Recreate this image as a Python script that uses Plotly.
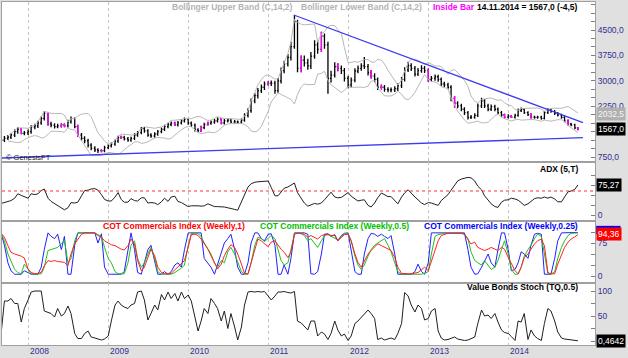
import pandas as pd
import plotly.graph_objects as go
from plotly.subplots import make_subplots

# ---------------- data (semi-monthly bars) ----------------
close = [1250,1310,1340,1400,1500,1570,1450,1460,1500,1630,
         1670,1760,1890,2040,1730,1690,1650,1670,1700,1670,
         1790,1890,1650,1400,1300,1230,1100,1010,960,940,
         940,1030,1080,1130,1220,1330,1330,1290,1250,1300,
         1400,1470,1590,1520,1400,1370,1430,1500,1570,1650,
         1710,1750,1700,1760,1820,1870,1750,1690,1550,1530,
         1620,1710,1750,1780,1820,1870,1760,1820,1840,1790,
         1790,1780,1840,1980,2120,2410,2560,2710,2810,2900,
         2930,2930,2710,3000,3300,3500,3690,4010,4750,3370,
         3610,3530,3440,3730,4060,3930,4320,4060,3070,3170,
         3420,3370,3300,3070,2880,3020,3290,3370,3440,3420,
         3240,3140,3040,2810,2810,2750,2730,2730,2770,2860,
         3040,3320,3450,3370,3200,3300,3370,3300,3040,3070,
         3120,3040,2910,2880,2810,2480,2340,2260,2160,2060,
         1920,1930,1980,2260,2410,2260,2160,2240,2160,2060,
         1990,1930,1960,1930,1980,2120,2160,2060,2000,1930,
         1920,1930,1890,2060,2140,2100,2040,1990,1920,1820,
         1720,1700,1610,1567]
high = [1310,1370,1400,1460,1560,1630,1600,1520,1560,1690,
        1730,1820,1950,2100,2060,1790,1750,1730,1750,1740,
        1850,1950,1920,1700,1460,1360,1290,1160,1070,1010,
        990,1080,1130,1180,1270,1380,1380,1380,1340,1350,
        1450,1520,1640,1640,1570,1450,1480,1550,1620,1700,
        1760,1800,1790,1810,1870,1920,1900,1800,1740,1600,
        1670,1760,1790,1830,1870,1920,1900,1870,1890,1880,
        1840,1830,1890,2040,2190,2480,2640,2790,2890,2980,
        2990,3010,3000,3080,3390,3590,3790,4150,4940,4800,
        3750,3750,3650,3850,4200,4200,4450,4400,4150,3300,
        3550,3520,3450,3380,3150,3100,3370,3450,3520,3700,
        3500,3320,3220,3100,2890,2880,2810,2800,2840,2930,
        3110,3400,3560,3520,3440,3380,3460,3440,3360,3140,
        3190,3180,3100,2970,2940,2870,2550,2400,2320,2220,
        2110,1990,2040,2330,2500,2460,2320,2300,2290,2210,
        2110,2030,2010,1990,2030,2180,2210,2200,2100,2040,
        1970,1970,1970,2110,2190,2180,2140,2080,2030,1960,
        1860,1760,1730,1640]
low = [1170,1190,1250,1280,1340,1440,1420,1390,1400,1440,
       1570,1610,1700,1830,1680,1630,1590,1600,1620,1630,
       1620,1740,1600,1340,1230,1160,1030,950,900,870,
       890,890,980,1030,1080,1170,1280,1240,1200,1200,
       1250,1350,1420,1470,1350,1320,1320,1380,1450,1520,
       1600,1660,1670,1650,1710,1770,1700,1640,1500,1480,
       1490,1570,1680,1700,1730,1770,1720,1710,1770,1750,
       1740,1740,1730,1790,1920,2060,2340,2480,2640,2730,
       2860,2850,2620,2650,2920,3220,3420,3600,3950,3250,
       3250,3420,3330,3350,3650,3800,3850,3950,2620,2950,
       3100,3280,3200,2980,2780,2800,2960,3220,3300,3350,
       3160,3070,2960,2730,2740,2680,2660,2660,2670,2700,
       2790,2980,3260,3290,3130,3140,3240,3230,2970,2980,
       3000,2970,2850,2810,2750,2400,2200,2190,2100,1990,
       1860,1870,1880,1930,2200,2200,2100,2110,2100,2010,
       1940,1890,1890,1900,1890,1940,2080,2020,1960,1890,
       1880,1880,1850,1860,2020,2060,1990,1950,1880,1780,
       1680,1660,1570,1540]
first_open = 1230
inside_bar_idx = [6, 14, 18, 19, 23, 30, 36, 52, 60, 62, 66, 80, 90, 96, 101,
                  111, 114, 128, 136, 151, 153, 159, 170, 173]

adx = [29,31,34,36,42,53,49,45,42,53,
       51,53,61,65,42,34,28,23,18,13,
       18,31,30,32,48,61,62,65,66,62,
       51,39,35,35,45,56,39,32,32,41,
       36,35,43,43,30,31,30,26,33,42,
       34,45,47,34,31,27,21,23,24,23,
       22,23,28,24,21,21,21,20,18,17,
       14,12,32,50,70,78,82,83,84,84,
       85,69,48,48,58,67,70,75,80,56,
       40,30,22,25,29,27,30,38,47,57,
       45,43,44,49,56,47,41,35,37,38,
       24,20,30,43,55,50,46,46,36,28,
       45,55,63,54,45,38,30,26,31,30,
       26,24,36,43,51,62,75,85,90,92,
       94,93,85,72,63,48,38,28,21,19,
       32,37,38,42,40,37,31,24,28,34,
       41,43,42,45,42,45,40,33,33,45,
       58,60,64,75.27]

cot_w1 = [97,88,69,54,50,48,45,41,16,8,
          5,6,8,23,35,33,35,33,31,31,
          23,50,73,84,95,98,98,98,98,92,
          88,80,74,71,69,65,61,59,69,84,
          73,35,12,20,42,61,46,20,8,5,
          5,6,14,20,27,35,65,94,95,92,
          84,73,61,46,31,16,27,46,61,71,
          65,50,27,6,5,31,58,84,80,73,
          67,77,80,69,61,54,42,54,95,97,
          97,95,88,92,88,84,92,94,95,92,
          92,80,88,94,95,80,50,31,20,35,
          50,58,65,73,69,65,61,58,42,20,
          6,5,5,5,6,8,14,20,12,35,
          61,80,92,95,97,97,97,97,97,95,
          84,73,77,65,61,58,61,65,61,58,
          65,61,42,27,12,5,20,42,50,61,
          73,80,84,69,8,5,5,27,50,65,
          77,84,89,94.36]
cot_w05 = [96,80,50,35,15,8,5,27,14,5,
           4,4,5,20,58,60,62,65,73,82,
           30,40,80,98,98,98,98,98,98,94,
           90,65,40,30,10,5,5,5,30,70,
           80,40,20,30,50,65,40,10,4,4,
           4,4,8,12,18,25,70,96,98,96,
           90,75,60,50,30,20,35,30,55,65,
           50,30,10,4,4,30,70,88,85,78,
           85,92,85,60,35,25,30,60,96,98,
           96,92,80,85,75,65,80,92,94,90,
           85,82,90,96,97,80,45,25,15,25,
           45,60,70,75,80,85,70,55,30,10,
           4,4,4,4,4,4,4,6,10,50,
           90,94,96,97,97,97,97,97,97,95,
           85,55,35,30,25,35,25,15,20,35,
           60,80,50,15,4,4,20,45,60,70,
           85,95,90,50,5,4,10,40,65,80,
           92,97,97,98]
cot_w025 = [95,70,30,12,4,4,4,12,8,4,
            4,4,20,60,98,90,85,95,60,90,
            4,4,70,98,98,98,98,98,98,75,
            96,20,4,4,4,4,4,10,60,98,
            60,8,4,30,60,70,30,4,4,10,
            4,10,25,30,20,60,98,98,98,98,
            98,40,30,20,4,25,50,75,85,95,
            60,20,4,4,30,75,98,98,85,80,
            95,96,70,4,4,25,4,40,98,98,
            98,98,95,5,4,10,50,95,96,90,
            94,80,92,97,98,60,10,4,4,50,
            85,97,95,90,95,90,85,92,50,4,
            4,4,4,4,10,27,10,4,30,98,
            98,98,97,98,98,98,98,98,98,98,
            60,20,4,5,20,35,50,30,20,60,
            98,98,60,12,15,30,55,50,40,70,
            95,97,95,4,4,4,40,80,98,98,
            98,98,98,99]

stoch = [19,80,80,85,75,75,38,65,82,98,
         100,100,100,60,58,55,48,65,50,55,
         70,55,15,5,5,15,20,8,6,4,
         2,4,10,40,72,80,72,68,65,72,
         75,98,100,82,42,55,72,62,93,82,
         98,85,95,80,98,85,92,80,45,20,
         40,65,55,85,75,65,40,60,25,55,
         28,2,28,72,98,99,98,99,98,99,
         90,82,90,98,98,99,97,96,99,40,
         36,30,22,40,40,10,18,14,3,15,
         40,22,10,14,1,10,35,40,47,55,
         62,55,45,3,6,2,5,6,3,15,
         35,97,90,72,58,72,65,42,45,60,
         65,20,6,2,3,5,8,4,2,1,
         2,4,8,35,62,50,52,45,55,38,
         22,17,15,9,1,40,38,55,3,22,
         10,5,1,35,65,60,40,18,6,4,
         3,2,1,0.4642]

years = [2008, 2009, 2010, 2011, 2012, 2013, 2014]
trend_upper_dates = ["2011-04-28", "2014-12-08"]
trend_upper_price = [4943, 1763]
trend_lower_dates = ["2007-09-04", "2014-12-08"]
trend_lower_price = [721, 1320]
bb_upper_last_text = "2032,5"
bb_upper_last = 2032.5
last_close_text = "1567,0"
adx_last_text = "75,27"
cot_last_text = "94,36"
stoch_last_text = "0,4642"
price_ticks = [750, 1500, 2250, 3000, 3750, 4500]
adx_level = 60
cot_levels = [80, 20]
stoch_levels = [85, 15]

# ---------------- derived ----------------
dates = pd.date_range("2007-09-01", periods=len(close), freq="SMS")
opens = [first_open] + close[:-1]
s = pd.Series(close)
mid = s.rolling(7, min_periods=3).mean()
sd = s.rolling(7, min_periods=3).std(ddof=0)
bb_up = mid + 2 * sd
bb_lo = mid - 2 * sd

FONT = "Liberation Sans"
AXC = "#303090"
GRID = "#c4c4c4"

fig = make_subplots(rows=4, cols=1, shared_xaxes=True, vertical_spacing=0,
                    row_heights=[160, 59, 62, 62])

# Bollinger bands
fig.add_trace(go.Scatter(x=dates, y=bb_up, mode="lines", line=dict(color="#b8b8b8", width=1)), 1, 1)
fig.add_trace(go.Scatter(x=dates, y=bb_lo, mode="lines", line=dict(color="#b8b8b8", width=1)), 1, 1)

# price bars
fig.add_trace(go.Ohlc(x=dates, open=opens, high=high, low=low, close=close,
                      increasing_line_color="black", decreasing_line_color="black",
                      line_width=1.3, tickwidth=0.35), 1, 1)
ib = inside_bar_idx
fig.add_trace(go.Ohlc(x=[dates[i] for i in ib], open=[opens[i] for i in ib],
                      high=[high[i] for i in ib], low=[low[i] for i in ib],
                      close=[close[i] for i in ib],
                      increasing_line_color="#ff00ff", decreasing_line_color="#ff00ff",
                      line_width=1.3, tickwidth=0.35), 1, 1)

# trend lines
fig.add_trace(go.Scatter(x=trend_upper_dates, y=trend_upper_price, mode="lines",
                         line=dict(color="#3c3cf0", width=1.3)), 1, 1)
fig.add_trace(go.Scatter(x=trend_lower_dates, y=trend_lower_price, mode="lines",
                         line=dict(color="#3c3cf0", width=1.3)), 1, 1)

# ADX
fig.add_trace(go.Scatter(x=dates, y=adx, mode="lines", line=dict(color="#202020", width=1)), 2, 1)
fig.add_hline(y=adx_level, line=dict(color="#ff3030", width=1, dash="dot"), row=2, col=1)

# COT
fig.add_hline(y=cot_levels[0], line=dict(color="#30c030", width=1, dash="dot"), row=3, col=1)
fig.add_hline(y=cot_levels[1], line=dict(color="#e02020", width=1, dash="dash"), row=3, col=1)
fig.add_trace(go.Scatter(x=dates, y=cot_w025, mode="lines", line=dict(color="#2020ff", width=1)), 3, 1)
fig.add_trace(go.Scatter(x=dates, y=cot_w05, mode="lines", line=dict(color="#20c020", width=1)), 3, 1)
fig.add_trace(go.Scatter(x=dates, y=cot_w1, mode="lines", line=dict(color="#ff2020", width=1)), 3, 1)

# Stoch
fig.add_hline(y=stoch_levels[0], line=dict(color="#e02020", width=1, dash="dash"), row=4, col=1)
fig.add_hline(y=stoch_levels[1], line=dict(color="#30c030", width=1, dash="dot"), row=4, col=1)
fig.add_trace(go.Scatter(x=dates, y=stoch, mode="lines", line=dict(color="#202020", width=1)), 4, 1)

year_dates = [f"{y}-01-01" for y in years]
fig.update_xaxes(range=["2007-09-04", "2015-02-01"], showgrid=True, gridcolor=GRID,
                 griddash="dot", gridwidth=1, tickvals=year_dates, showticklabels=False,
                 ticks="", showline=True, mirror=True, linecolor="#a0a0a0",
                 rangeslider_visible=False, zeroline=False)

yax_common = dict(side="right", ticks="inside", ticklen=4, tickcolor="#808080",
                  showgrid=False, zeroline=False, showline=True, mirror=True,
                  linecolor="#a0a0a0", automargin=False,
                  tickfont=dict(family=FONT, size=8.5, color=AXC))
fig.update_yaxes(range=[603, 5327], tickvals=price_ticks,
                 ticktext=[f"{v},0" for v in price_ticks],
                 minor=dict(ticks="inside", dtick=250, ticklen=4, tickcolor="#808080"),
                 row=1, col=1, **yax_common)
fig.update_yaxes(range=[-15, 132.5], tickvals=[0, 25, 50, 75, 100],
                 ticktext=["0", "", "", "", ""], row=2, col=1, **yax_common)
fig.update_yaxes(range=[-15.9, 125], tickvals=[0, 25, 50, 75, 100],
                 ticktext=["0", "", "", "75", ""], row=3, col=1, **yax_common)
fig.update_yaxes(range=[-8, 116], tickvals=[0, 25, 50, 75, 100],
                 ticktext=["", "", "50", "", "100"], row=4, col=1, **yax_common)

ann = []
def txt(text, x, y, color, xanchor="left", size=8.5, bold=True):
    ann.append(dict(text=f"<b>{text}</b>" if bold else text, x=x, y=y, xref="paper", yref="paper",
                    xanchor=xanchor, yanchor="middle", showarrow=False,
                    font=dict(family=FONT, size=size, color=color)))

def px_x(p):
    return (p - 2) / 593.0

def px_y(p):
    return (345 - p) / 343.0

txt("Bollinger Upper Band (C,14,2)", px_x(170), px_y(7), "#b4b4b4")
txt("Bollinger Lower Band (C,14,2)", px_x(299), px_y(7), "#b4b4b4")
txt("Inside Bar", px_x(431), px_y(7), "#ff00ff")
txt("14.11.2014 = 1567,0 (-4,5)", px_x(580), px_y(7), "#000000", xanchor="right")
txt("© GenesisFT", px_x(4), px_y(157), "#202020", size=7.5, bold=False)
txt("ADX (5,T)", px_x(580), px_y(169), "#000000", xanchor="right")
txt("COT Commercials Index (Weekly,1)", px_x(101), px_y(226), "#ff0000")
txt("COT Commercials Index (Weekly,0.5)", px_x(258), px_y(226), "#00c000")
txt("COT Commercials Index (Weekly,0.25)", px_x(580), px_y(226), "#0000ff", xanchor="right")
txt("Value Bonds Stoch (TQ,0.5)", px_x(580), px_y(287), "#000000", xanchor="right")

for y, d in zip(years, year_dates):
    ann.append(dict(text=str(y), x=d, y=px_y(351), xref="x", yref="paper", xanchor="left",
                    yanchor="middle", showarrow=False,
                    font=dict(family=FONT, size=8.5, color=AXC)))

def valbox(text, yval, yref, bg, fg="white"):
    ann.append(dict(text=text, x=1.002, y=yval, xref="paper", yref=yref, xanchor="left",
                    yanchor="middle", showarrow=False, bgcolor=bg, borderpad=1,
                    font=dict(family=FONT, size=8.5, color=fg)))

valbox(bb_upper_last_text, bb_upper_last, "y", "#b0b0b0", "#f4f4f4")
valbox(last_close_text, close[-1], "y", "#000000")
valbox(adx_last_text, adx[-1], "y2", "#000000")
valbox(cot_last_text, cot_w1[-1], "y3", "#ff0000")
valbox(stoch_last_text, stoch[-1], "y4", "#000000")

fig.add_shape(type="rect", xref="paper", yref="y3", x0=1.002, x1=1.043,
              y0=95, y1=114, fillcolor="#0000ff", line=dict(width=0), layer="above")

fig.update_layout(width=628, height=358, margin=dict(l=2, r=33, t=2, b=13),
                  paper_bgcolor="#e0e0e0", plot_bgcolor="white", showlegend=False,
                  annotations=ann, font=dict(family=FONT))

fig.write_html("out.html", config={"displayModeBar": False},
               post_script="document.body.style.margin='0px';document.body.style.overflow='hidden';")
